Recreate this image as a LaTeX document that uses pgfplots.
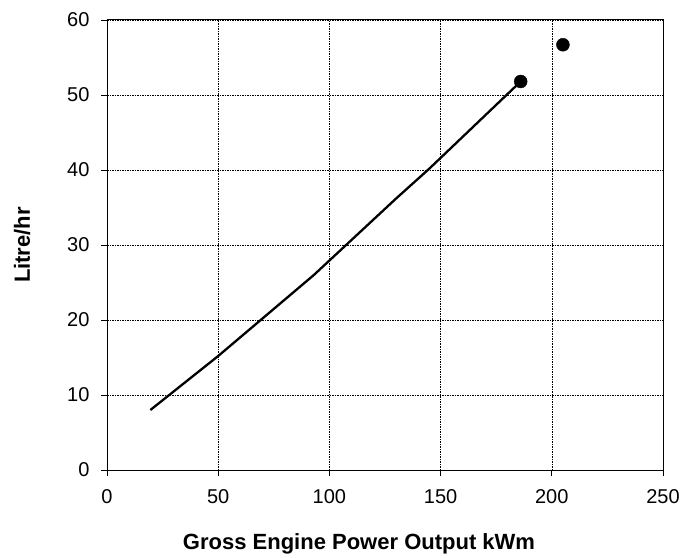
\documentclass[border=0pt]{standalone}
\usepackage{fontspec}
\setmainfont{Liberation Sans}
\usepackage{pgfplots}
\pgfplotsset{compat=1.18}
\begin{document}
\begin{tikzpicture}[x=1pt,y=1pt]
\useasboundingbox (0,0) rectangle (682,557);
\begin{axis}[
    at={(107pt,87pt)}, anchor=south west,
    width=556pt, height=450pt, scale only axis,
    xmin=0, xmax=250, ymin=0, ymax=60,
    xtick={0,50,...,250}, ytick={0,10,...,60},
    tick align=outside, xtick pos=bottom, ytick pos=left,
    major tick length=6pt,
    tick style={black, line width=0.8pt},
    axis line style={black, line width=1pt},
    grid=major,
    grid style={black, line width=0.6pt, dash pattern=on 1.5pt off 1pt},
    /pgf/number format/assume math mode=true,
    ticklabel style={font=\fontsize{20}{24}\selectfont},
    xticklabel style={yshift=-10pt},
    yticklabel style={xshift=-8pt},
    xlabel={\textbf{Gross Engine Power Output kWm}},
    ylabel={\textbf{Litre/hr}},
    label style={font=\fontsize{22}{26}\selectfont},
    xlabel style={yshift=-23pt, xshift=-26pt},
    ylabel style={yshift=30pt},
]
\addplot[black, line width=2.3pt, line join=round] coordinates {
    (19.5,8.0) (50,15.2) (93,26.0) (130,36.2) (145,40.2) (186,51.8)
};
\addplot[only marks, mark=*, mark size=6.5pt, mark options={fill=black, draw=black}] coordinates {
    (186,51.8) (205,56.7)
};
\end{axis}
\end{tikzpicture}
\end{document}
